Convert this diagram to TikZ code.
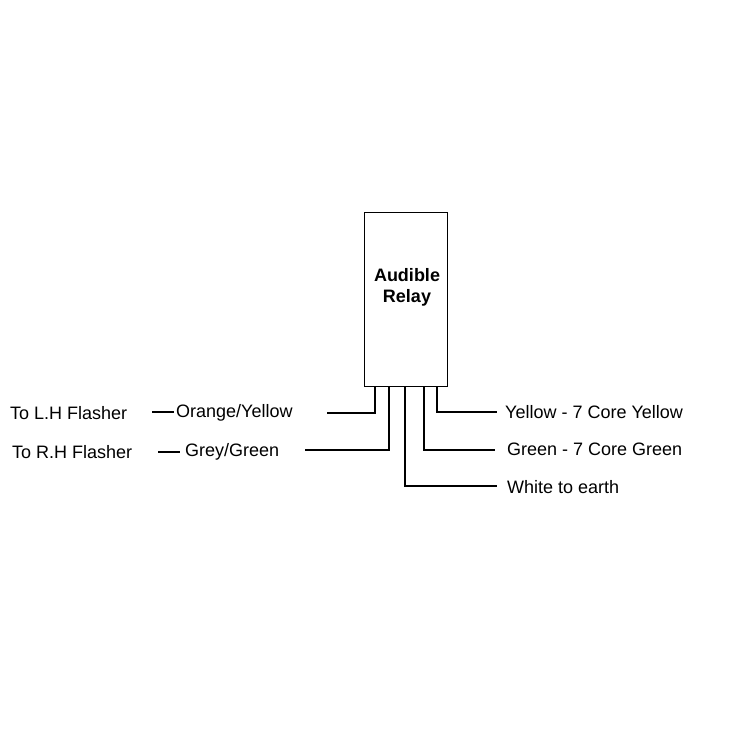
\documentclass[tikz,border=0pt]{standalone}
\usepackage{fontspec}
\setmainfont{Liberation Sans}
\begin{document}
\begin{tikzpicture}[x=1pt,y=-1pt,
  wire/.style={line width=2.2pt},
  lbl/.style={font=\fontsize{18}{20}\selectfont,inner sep=0pt}]
\useasboundingbox (0,0) rectangle (739,739);
\node[draw,line width=0.6pt,minimum width=83pt,minimum height=174pt,anchor=north west,inner sep=0pt] (relay) at (364,212) {};
\node[font=\bfseries\fontsize{18}{21}\selectfont,align=center] (rt) at (407,287) {Audible\\Relay};
% pins
\coordinate (p1) at (375,386); \coordinate (p2) at (389,386); \coordinate (p3) at (405,386);
\coordinate (p4) at (424,386); \coordinate (p5) at (437,386);
\node[lbl,anchor=west] (ly) at (505,412) {Yellow - 7 Core Yellow};
\node[lbl,anchor=west] (lg) at (507,449) {Green - 7 Core Green};
\node[lbl,anchor=west] (lw) at (507,487) {White to earth};
\node[lbl,anchor=west] (lo) at (176,413) {Orange/Yellow};
\node[lbl,anchor=west] (lgg) at (185,452) {Grey/Green};
\node[lbl,anchor=west] (tl) at (10,413) {To L.H Flasher};
\node[lbl,anchor=west] (tr) at (12,452) {To R.H Flasher};
\draw[wire] (p5) |- (ly.west -| 497,0) coordinate (ey);
\draw[wire] (p4) |- (495,450);
\draw[wire] (p3) |- (497,486);
\draw[wire] (p1) |- (327,413);
\draw[wire] (p2) |- (305,450);
\draw[wire] (152,412) -- (174,412);
\draw[wire] (158,452) -- (180,452);
\end{tikzpicture}
\end{document}
